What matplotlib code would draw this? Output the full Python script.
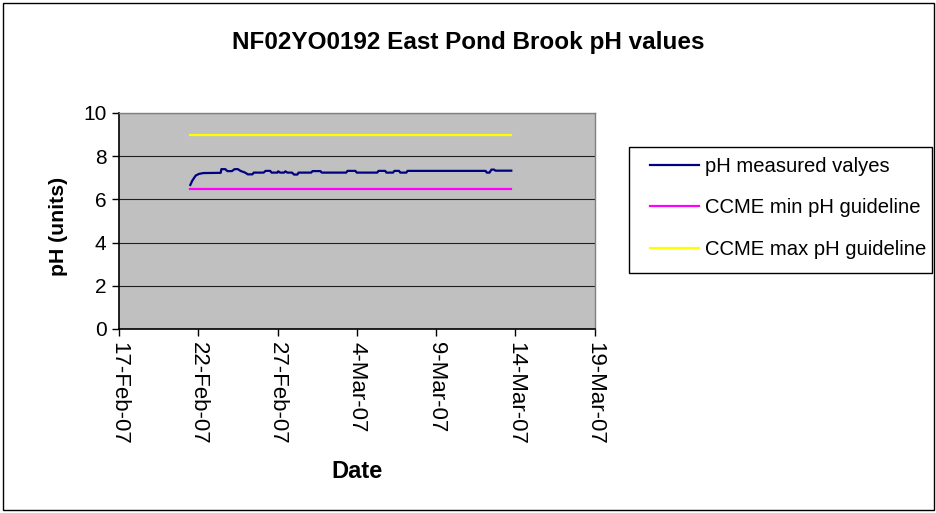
import matplotlib
matplotlib.use("Agg")
import matplotlib.pyplot as plt
import matplotlib.dates as mdates
from matplotlib.patches import Rectangle
import pandas as pd

# ---- data ----
times = [
    "2007-02-21 12:00", "2007-02-21 15:00", "2007-02-21 20:00", "2007-02-22 01:00",
    "2007-02-22 08:00", "2007-02-23 10:00", "2007-02-23 11:00", "2007-02-23 17:00",
    "2007-02-23 20:00", "2007-02-24 03:00", "2007-02-24 07:00", "2007-02-24 12:00",
    "2007-02-24 16:00", "2007-02-24 23:00", "2007-02-25 03:00", "2007-02-25 10:00",
    "2007-02-25 12:00", "2007-02-26 03:00", "2007-02-26 06:00", "2007-02-26 13:00",
    "2007-02-26 15:00", "2007-02-27 00:00", "2007-02-27 01:00", "2007-02-27 04:00",
    "2007-02-27 10:00", "2007-02-27 12:00", "2007-02-27 15:00", "2007-02-27 22:00",
    "2007-02-28 01:00", "2007-02-28 06:00", "2007-02-28 08:00", "2007-03-01 03:00",
    "2007-03-01 05:00", "2007-03-01 17:00", "2007-03-01 19:00", "2007-03-03 08:00",
    "2007-03-03 10:00", "2007-03-03 22:00", "2007-03-04 00:00", "2007-03-05 07:00",
    "2007-03-05 09:00", "2007-03-05 19:00", "2007-03-05 21:00", "2007-03-06 07:00",
    "2007-03-06 09:00", "2007-03-06 16:00", "2007-03-06 18:00", "2007-03-07 03:00",
    "2007-03-07 05:00", "2007-03-12 03:00", "2007-03-12 05:00", "2007-03-12 09:00",
    "2007-03-12 12:00", "2007-03-12 16:00", "2007-03-12 18:00", "2007-03-13 18:00",
]
ph_measured = [
    6.67, 6.87, 7.10, 7.18,
    7.22, 7.23, 7.40, 7.40,
    7.31, 7.31, 7.40, 7.40,
    7.32, 7.24, 7.16, 7.16,
    7.24, 7.24, 7.32, 7.32,
    7.24, 7.24, 7.30, 7.24,
    7.24, 7.30, 7.24, 7.24,
    7.15, 7.15, 7.24, 7.24,
    7.31, 7.31, 7.24, 7.24,
    7.32, 7.32, 7.24, 7.24,
    7.32, 7.32, 7.24, 7.24,
    7.32, 7.32, 7.24, 7.24,
    7.32, 7.32, 7.24, 7.24,
    7.38, 7.38, 7.33, 7.33,
]
ccme_min = 6.5
ccme_max = 9.0
guide_span = ["2007-02-21 12:00", "2007-03-13 18:00"]
x_limits = ["2007-02-17", "2007-03-19"]
y_ticks = [0, 2, 4, 6, 8, 10]

title = "NF02YO0192 East Pond Brook pH values"
labels = ["pH measured valyes", "CCME min pH guideline", "CCME max pH guideline"]

# ---- figure ----
plt.rcParams['font.family'] = ['Liberation Sans', 'DejaVu Sans']
W, H = 937, 513
fig = plt.figure(figsize=(W / 100, H / 100), dpi=100)
fig.patch.set_facecolor("white")
fig.patches.append(Rectangle((3 / W, 3 / H), (W - 6) / W, (H - 6) / H,
                             transform=fig.transFigure, fill=False,
                             edgecolor="black", linewidth=1.0))

left, right, top, bottom = 119, 594.5, 113, 329
ax = fig.add_axes([left / W, 1 - bottom / H, (right - left) / W, (bottom - top) / H])
ax.set_facecolor("#C0C0C0")

t = pd.to_datetime(times)
g = pd.to_datetime(guide_span)
ax.plot(t, ph_measured, color="#000080", linewidth=1.6, label=labels[0], zorder=3)
ax.plot(g, [ccme_min, ccme_min], color="#FF00FF", linewidth=1.6, label=labels[1], zorder=3)
ax.plot(g, [ccme_max, ccme_max], color="#FFFF00", linewidth=1.6, label=labels[2], zorder=3)

ax.set_xlim(pd.to_datetime(x_limits[0]), pd.to_datetime(x_limits[1]))
ax.set_ylim(0, 10)
ax.set_yticks(y_ticks)
ax.yaxis.grid(True, color="#202020", linewidth=0.8)
ax.set_axisbelow(True)

xt = pd.date_range(x_limits[0], x_limits[1], freq="5D")
ax.set_xticks(xt)
ax.xaxis.set_major_formatter(plt.FuncFormatter(
    lambda v, p: (lambda d: f"{d.day}-{d.strftime('%b-%y')}")(mdates.num2date(v))))
ax.tick_params(axis="x", labelsize=16, length=5, width=1, direction="out", pad=4)
ax.tick_params(axis="y", labelsize=15, length=5, width=1, direction="out", pad=4)
for lab in ax.get_xticklabels():
    lab.set_rotation(-90)
    lab.set_va("top")
    lab.set_ha("center")

for s in ["left", "bottom"]:
    ax.spines[s].set_color("black")
    ax.spines[s].set_linewidth(1.2)
for s in ["right", "top"]:
    ax.spines[s].set_color("#808080")
    ax.spines[s].set_linewidth(1.0)

fig.text(468 / W, 1 - 42 / H, title, ha="center", va="center",
         fontsize=17.5, fontweight="bold")
fig.text(59 / W, 1 - 226 / H, "pH (units)", ha="center", va="center",
         rotation=90, fontsize=15.3, fontweight="bold")
fig.text(357 / W, 1 - 471 / H, "Date", ha="center", va="center",
         fontsize=17, fontweight="bold")

# legend: frame drawn separately, contents positioned inside
fig.patches.append(Rectangle((629 / W, 1 - 273 / H), (932 - 629) / W, (273 - 147) / H,
                             transform=fig.transFigure, fill=False,
                             edgecolor="black", linewidth=1.0, zorder=5))
leg = fig.legend(loc="upper left", bbox_to_anchor=(650 / W, 1 - 157 / H),
                 fontsize=14.6, frameon=False,
                 handlelength=2.4, handletextpad=0.3, labelspacing=1.1,
                 borderpad=0, borderaxespad=0)

fig.savefig("out.png", dpi=100)
